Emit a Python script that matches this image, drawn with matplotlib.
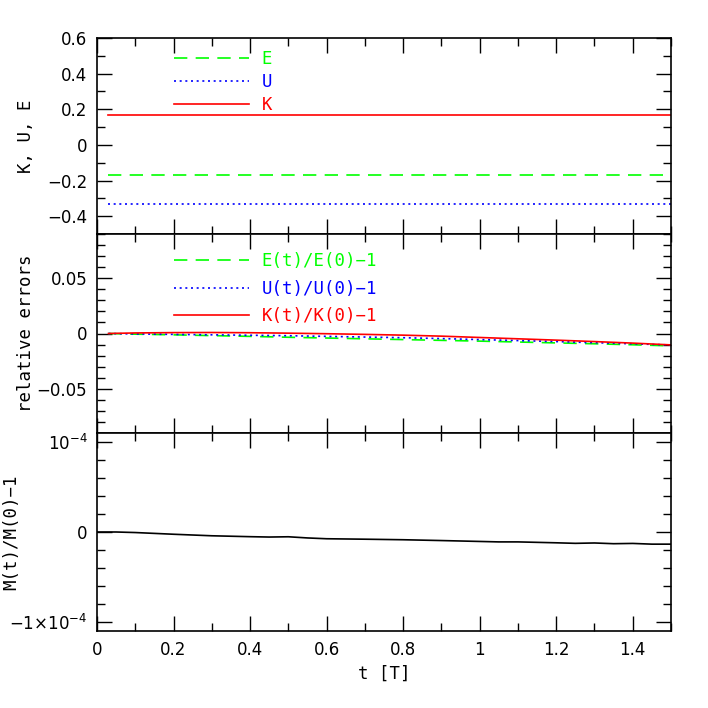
import matplotlib
matplotlib.use("Agg")
import matplotlib.pyplot as plt
from matplotlib.ticker import MultipleLocator, FixedLocator, FixedFormatter
import numpy as np

# ---- data ----
t_energy = [0.03, 0.1, 0.2, 0.3, 0.4, 0.5, 0.6, 0.7, 0.8, 0.9, 1.0, 1.1, 1.2, 1.3, 1.4, 1.5]
K_vals = [0.1667] * 16
U_vals = [-0.3333] * 16
E_vals = [-0.1667] * 16

rel_K = [0.0, 0.0005, 0.0008, 0.0009, 0.0007, 0.0003, -0.0002, -0.0008, -0.0015, -0.0024,
         -0.0036, -0.0048, -0.0060, -0.0073, -0.0087, -0.0103]
rel_U = [0.0, -0.0004, -0.0008, -0.0012, -0.0016, -0.0020, -0.0026, -0.0032, -0.0038, -0.0046,
         -0.0055, -0.0064, -0.0073, -0.0083, -0.0093, -0.0104]
rel_E = [0.0, -0.0006, -0.0012, -0.0019, -0.0026, -0.0034, -0.0041, -0.0048, -0.0055, -0.0062,
         -0.0069, -0.0077, -0.0085, -0.0093, -0.0102, -0.0112]

t_mass = [0, 0.05, 0.1, 0.2, 0.3, 0.4, 0.45, 0.5, 0.55, 0.6, 0.7, 0.8, 0.9, 1.0, 1.05,
          1.1, 1.2, 1.25, 1.3, 1.35, 1.4, 1.45, 1.5]
rel_M = [0, 0, -0.6e-6, -2.5e-6, -4.2e-6, -5.2e-6, -5.6e-6, -5.3e-6, -6.6e-6, -7.5e-6, -8.0e-6,
         -8.6e-6, -9.5e-6, -1.05e-5, -1.1e-5, -1.1e-5, -1.2e-5, -1.26e-5, -1.22e-5, -1.3e-5,
         -1.27e-5, -1.35e-5, -1.35e-5]

xticks = [0, 0.2, 0.4, 0.6, 0.8, 1.0, 1.2, 1.4]
xticklabels = ["0", "0.2", "0.4", "0.6", "0.8", "1", "1.2", "1.4"]
top_yticks = [-0.4, -0.2, 0, 0.2, 0.4, 0.6]
top_yticklabels = ["\u22120.4", "\u22120.2", "0", "0.2", "0.4", "0.6"]
mid_yticks = [-0.05, 0, 0.05]
mid_yticklabels = ["\u22120.05", "0", "0.05"]
bot_yticks = [-1e-4, 0, 1e-4]
bot_yticklabels = [r"$-1{\times}10^{-4}$", "0", r"$10^{-4}$"]

GREEN = "#00ff00"
BLUE = "#0000ff"
RED = "#ff0000"
LABEL_FONT = "DejaVu Sans Mono"
LABEL_SIZE = 12.5

fig = plt.figure(figsize=(7.08, 7.08), dpi=100)
L, R = 97 / 708, 671 / 708
def ax_at(top_px, bot_px):
    return fig.add_axes([L, 1 - bot_px / 708, R - L, (bot_px - top_px) / 708])

ax1 = ax_at(38, 234)
ax2 = ax_at(234, 433)
ax3 = ax_at(433, 631)

for ax in (ax1, ax2, ax3):
    ax.set_xlim(0, 1.5)
    ax.xaxis.set_major_locator(FixedLocator(xticks))
    ax.xaxis.set_minor_locator(MultipleLocator(0.1))
    ax.tick_params(which="both", direction="in", top=True, right=True, width=1.0,
                   labelsize=12, pad=7)
    ax.tick_params(which="major", length=11)
    ax.tick_params(which="minor", length=5.5)
    for s in ax.spines.values():
        s.set_linewidth(1.2)
    if ax is not ax3:
        ax.tick_params(labelbottom=False)

lw = 1.2
dash = (0, (8, 5))
dot = (0, (1.2, 2.2))

# top panel
ax1.plot(t_energy, E_vals, color=GREEN, lw=lw, linestyle=dash, label="E")
ax1.plot(t_energy, U_vals, color=BLUE, lw=lw, linestyle=dot, label="U")
ax1.plot(t_energy, K_vals, color=RED, lw=lw, linestyle="-", label="K")
ax1.set_ylim(-0.5, 0.6)
ax1.yaxis.set_major_locator(FixedLocator(top_yticks))
ax1.yaxis.set_major_formatter(FixedFormatter(top_yticklabels))
ax1.yaxis.set_minor_locator(MultipleLocator(0.1))
ax1.set_ylabel("K, U, E", fontsize=LABEL_SIZE, family=LABEL_FONT)
ax1.yaxis.set_label_coords(-0.108, 0.5)

# middle panel
ax2.plot(t_energy, rel_E, color=GREEN, lw=lw, linestyle=dash, label="E(t)/E(0)\u22121")
ax2.plot(t_energy, rel_U, color=BLUE, lw=lw, linestyle=dot, label="U(t)/U(0)\u22121")
ax2.plot(t_energy, rel_K, color=RED, lw=lw, linestyle="-", label="K(t)/K(0)\u22121")
ax2.set_ylim(-0.09, 0.09)
ax2.yaxis.set_major_locator(FixedLocator(mid_yticks))
ax2.yaxis.set_major_formatter(FixedFormatter(mid_yticklabels))
ax2.yaxis.set_minor_locator(MultipleLocator(0.01))
ax2.set_ylabel("relative errors", fontsize=LABEL_SIZE, family=LABEL_FONT)
ax2.yaxis.set_label_coords(-0.108, 0.5)

# bottom panel
ax3.plot(t_mass, rel_M, color="black", lw=lw)
ax3.set_ylim(-1.1e-4, 1.1e-4)
ax3.yaxis.set_major_locator(FixedLocator(bot_yticks))
ax3.yaxis.set_major_formatter(FixedFormatter(bot_yticklabels))
ax3.yaxis.set_minor_locator(MultipleLocator(2e-5))
ax3.set_ylabel("M(t)/M(0)\u22121", fontsize=LABEL_SIZE, family=LABEL_FONT)
ax3.yaxis.set_label_coords(-0.133, 0.5)
ax3.xaxis.set_major_formatter(FixedFormatter(xticklabels))
ax3.set_xlabel("t [T]", fontsize=LABEL_SIZE, family=LABEL_FONT)

leg1 = ax1.legend(loc="upper left", bbox_to_anchor=(0.122, 0.974), frameon=False,
                  handlelength=4.3, handletextpad=0.75, labelspacing=0.29,
                  prop={"family": LABEL_FONT, "size": LABEL_SIZE}, labelcolor="linecolor",
                  borderaxespad=0)
leg2 = ax2.legend(loc="upper left", bbox_to_anchor=(0.122, 0.945), frameon=False,
                  handlelength=4.3, handletextpad=0.75, labelspacing=0.56,
                  prop={"family": LABEL_FONT, "size": LABEL_SIZE}, labelcolor="linecolor",
                  borderaxespad=0)

fig.savefig("out.png", dpi=100)
